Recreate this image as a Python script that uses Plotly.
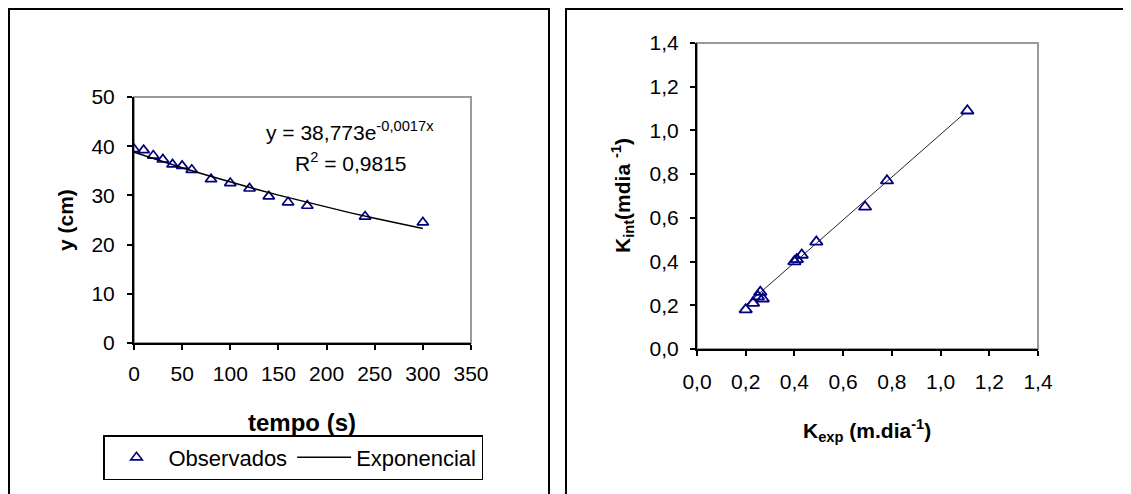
import plotly.graph_objects as go

W, H = 1131, 494
OFF = 8  # page body margin in the browser

# ---------------- data ----------------
tempo_s = [0, 10, 20, 30, 40, 50, 60, 80, 100, 120, 140, 160, 180, 240, 300]
y_obs_cm = [39.4, 39.2, 38.1, 37.3, 36.3, 36.0, 35.2, 33.3, 32.5, 31.4, 29.8, 28.6, 27.9, 25.7, 24.5]

trend_x = [0, 25, 50, 75, 100, 125, 150, 175, 200, 225, 250, 275, 300]
trend_y = [38.77, 37.16, 35.61, 34.13, 32.71, 31.35, 30.05, 28.80, 27.60, 26.45, 25.35, 24.29, 23.28]

k_exp = [0.20, 0.23, 0.25, 0.26, 0.27, 0.40, 0.41, 0.43, 0.49, 0.69, 0.78, 1.11]
k_int = [0.18, 0.21, 0.24, 0.26, 0.23, 0.40, 0.41, 0.43, 0.49, 0.65, 0.77, 1.09]

fit_x = [0.19, 1.10]
fit_y = [0.19, 1.08]

left_x_ticks = [0, 50, 100, 150, 200, 250, 300, 350]
left_y_ticks = [0, 10, 20, 30, 40, 50]
right_ticks = [0.0, 0.2, 0.4, 0.6, 0.8, 1.0, 1.2, 1.4]

eq_text = "y = 38,773e<sup>-0,0017x</sup>"
r2_text = "R<sup>2</sup> = 0,9815"

# ---------------- helpers ----------------
def px(x):
    return (x - OFF) / W

def py(y):
    return 1 - (y - OFF) / H

FONT = "Liberation Sans, Arial, sans-serif"
NAVY = "#000080"

fig = go.Figure()

fig.add_trace(go.Scatter(
    x=tempo_s, y=y_obs_cm, mode="markers", name="Observados",
    marker=dict(symbol="triangle-up-open", size=10, color=NAVY, line=dict(width=1.7, color=NAVY)),
    xaxis="x", yaxis="y"))
fig.add_trace(go.Scatter(
    x=trend_x, y=trend_y, mode="lines", name="Exponencial",
    line=dict(color="black", width=1.5), xaxis="x", yaxis="y"))

fig.add_trace(go.Scatter(
    x=fit_x, y=fit_y, mode="lines", showlegend=False,
    line=dict(color="#222222", width=1), xaxis="x2", yaxis="y2"))
fig.add_trace(go.Scatter(
    x=k_exp, y=k_int, mode="markers", showlegend=False,
    marker=dict(symbol="triangle-up-open", size=11, color=NAVY, line=dict(width=1.8, color=NAVY)),
    xaxis="x2", yaxis="y2"))

# domains (pixel based)
LX = [px(134), px(471)]
LY = [py(343), py(97)]
RX = [px(697), px(1038)]
RY = [py(349), py(43)]

tickfont = dict(family=FONT, size=21, color="black")

def axis(domain, rng, tickvals, anchor, fmt=None, ticks="outside", labels=True, overlay=None, standoff=None):
    d = dict(domain=domain, range=rng, tickvals=tickvals, anchor=anchor, automargin=False,
             showgrid=False, zeroline=False, showline=True, linecolor="black", linewidth=2,
             ticks=ticks, ticklen=5, tickwidth=2, tickcolor="black",
             showticklabels=labels, tickfont=tickfont, fixedrange=True)
    if fmt:
        d["tickformat"] = fmt
    if overlay:
        d["overlaying"] = overlay
    if standoff is not None:
        d["ticklabelstandoff"] = standoff
    return d

fig.update_layout(
    template="none",
    width=W, height=H, autosize=False,
    margin=dict(l=0, r=0, t=0, b=0, pad=0),
    paper_bgcolor="white", plot_bgcolor="white",
    separators=",.",
    font=dict(family=FONT, size=21, color="black"),
    xaxis=axis(LX, [0, 350], left_x_ticks, "y", standoff=6),
    yaxis=axis(LY, [0, 50], left_y_ticks, "x", standoff=8),
    xaxis2=axis(RX, [0, 1.4], right_ticks, "y2", fmt=".1f", standoff=8),
    yaxis2=axis(RY, [0, 1.4], right_ticks, "x2", fmt=".1f", standoff=7),
    xaxis3=axis(LX, [0, 350], left_x_ticks, "y", ticks="inside", labels=False, overlay="x"),
    yaxis3=axis(LY, [0, 50], left_y_ticks, "x", ticks="inside", labels=False, overlay="y"),
    xaxis4=axis(RX, [0, 1.4], right_ticks, "y2", ticks="inside", labels=False, overlay="x2"),
    yaxis4=axis(RY, [0, 1.4], right_ticks, "x2", ticks="inside", labels=False, overlay="y2"),
    showlegend=True,
    legend=dict(orientation="h", x=px(103), y=py(435), xanchor="left", yanchor="top",
                bordercolor="black", borderwidth=1.5, bgcolor="white",
                font=dict(family=FONT, size=22, color="black"),
                itemwidth=54, traceorder="normal"),
)

shapes = []
# outer panel borders
shapes.append(dict(type="rect", xref="paper", yref="paper", x0=px(9), x1=px(549), y0=-0.1, y1=py(9),
                   line=dict(color="black", width=2), layer="below"))
shapes.append(dict(type="rect", xref="paper", yref="paper", x0=px(566), x1=1.1, y0=-0.1, y1=py(9),
                   line=dict(color="black", width=2), layer="below"))
# gray plot-area frames
shapes.append(dict(type="rect", xref="x domain", yref="y domain", x0=0, x1=1, y0=0, y1=1,
                   line=dict(color="#9a9a9a", width=2), layer="below"))
shapes.append(dict(type="rect", xref="x2 domain", yref="y2 domain", x0=0, x1=1, y0=0, y1=1,
                   line=dict(color="#9a9a9a", width=2), layer="below"))
fig.update_layout(shapes=shapes)

ann = []
ann.append(dict(text=eq_text, xref="paper", yref="paper", x=px(350), y=py(131), showarrow=False,
                xanchor="center", yanchor="middle", font=dict(family=FONT, size=21, color="black")))
ann.append(dict(text=r2_text, xref="paper", yref="paper", x=px(351), y=py(162), showarrow=False,
                xanchor="center", yanchor="middle", font=dict(family=FONT, size=21, color="black")))
ann.append(dict(text="<b>tempo (s)</b>", xref="paper", yref="paper", x=px(302), y=py(422), showarrow=False,
                xanchor="center", yanchor="middle", font=dict(family=FONT, size=24, color="black")))
ann.append(dict(text="<b>y (cm)</b>", xref="paper", yref="paper", x=px(65), y=py(220), showarrow=False,
                textangle=-90, xanchor="center", yanchor="middle", font=dict(family=FONT, size=21, color="black")))
ann.append(dict(text="<b>K<sub>exp</sub> (m.dia<sup>-1</sup>)</b>", xref="paper", yref="paper", x=px(867), y=py(430),
                showarrow=False, xanchor="center", yanchor="middle", font=dict(family=FONT, size=21, color="black")))
ann.append(dict(text="<b>K<sub>int</sub>(mdia <sup>-1</sup>)</b>", xref="paper", yref="paper", x=px(622), y=py(196),
                showarrow=False, textangle=-90, xanchor="center", yanchor="middle",
                font=dict(family=FONT, size=21, color="black")))
fig.update_layout(annotations=ann)

fig.write_html("out.html", config={"displayModeBar": False})
